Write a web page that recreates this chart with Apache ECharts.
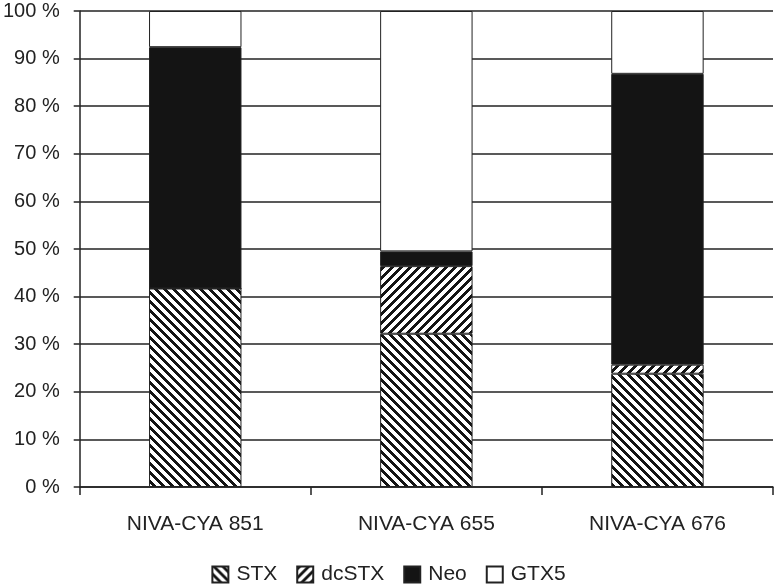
<!DOCTYPE html>
<html><head><meta charset="utf-8">
<script src="https://cdn.jsdelivr.net/npm/echarts@6/dist/echarts.min.js"></script>
<style>html,body{margin:0;padding:0;background:#fff}#c{width:777px;height:588px}</style>
</head><body><div id="c"></div>
<script>
var categories = ['NIVA-CYA 851', 'NIVA-CYA 655', 'NIVA-CYA 676'];
var stx = [41.7, 32.2, 23.8];
var dcstx = [0, 14.2, 1.9];
var neo = [50.7, 3.1, 61.1];
var gtx5 = [7.6, 50.5, 13.2];
var yTicks = [0, 10, 20, 30, 40, 50, 60, 70, 80, 90, 100];

function hatch(dir) {
  var s = 9, w = 4, c = document.createElement('canvas');
  c.width = s; c.height = s;
  var g = c.getContext('2d');
  var img = g.createImageData(s, s);
  for (var y = 0; y < s; y++) {
    for (var x = 0; x < s; x++) {
      var t = dir === 'back' ? ((x - y) % s + s) % s : (x + y) % s;
      var v = t < w ? 20 : 255;
      var i = (y * s + x) * 4;
      img.data[i] = v; img.data[i + 1] = v; img.data[i + 2] = v; img.data[i + 3] = 255;
    }
  }
  g.putImageData(img, 0, 0);
  return { image: c, repeat: 'repeat' };
}

var chart = echarts.init(document.getElementById('c'), null, { devicePixelRatio: 1 });
function ser(name, data, color) {
  return {
    name: name, type: 'bar', stack: 'all', data: data, barWidth: '40%',
    itemStyle: { color: color, borderColor: '#222', borderWidth: 1 },
    emphasis: { disabled: true }, animation: false
  };
}
var font = 'Liberation Sans, Arial, sans-serif';
chart.setOption({
  animation: false,
  grid: { left: 78, right: 4, top: 11, bottom: 101 },
  xAxis: {
    type: 'category', data: categories,
    axisLine: { lineStyle: { color: '#222', width: 1.5 } },
    axisTick: { show: true, alignWithLabel: false, length: 8, lineStyle: { color: '#222', width: 1.5 } },
    axisLabel: { color: '#222', fontSize: 21, fontFamily: font, margin: 27 }
  },
  yAxis: {
    type: 'value', min: 0, max: 100, interval: 10,
    axisLine: { show: true, lineStyle: { color: '#222', width: 1.5 } },
    axisTick: { show: true, length: 6, lineStyle: { color: '#222', width: 1.5 } },
    splitLine: { show: true, lineStyle: { color: '#222', width: 1.5 } },
    axisLabel: { color: '#222', fontSize: 20, fontFamily: font, margin: 20,
      formatter: function (v) { return yTicks.indexOf(v) >= 0 ? v + ' %' : ''; } }
  },
  legend: {
    bottom: -2, left: 'center', itemWidth: 16, itemHeight: 16, itemGap: 19,
    icon: 'rect',
    textStyle: { color: '#222', fontSize: 21, fontFamily: font, padding: [0, 0, 0, 3] },
    data: ['STX', 'dcSTX', 'Neo', 'GTX5']
  },
  series: [
    ser('STX', stx, hatch('back')),
    ser('dcSTX', dcstx, hatch('fwd')),
    ser('Neo', neo, '#141414'),
    ser('GTX5', gtx5, '#ffffff')
  ]
});
</script></body></html>
